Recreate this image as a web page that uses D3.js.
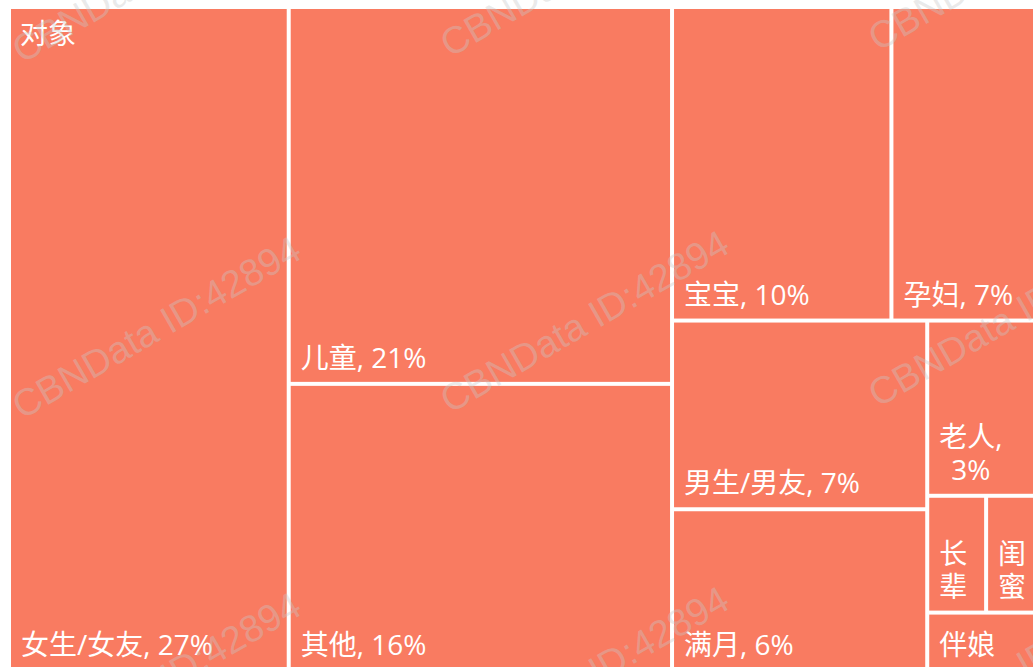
<!DOCTYPE html>
<html>
<head>
<meta charset="utf-8">
<title>对象</title>
<script src="https://cdn.jsdelivr.net/npm/d3@7"></script>
<style>
body { margin: 0; background: #fff; }
.label {
  font-family: "Open Sans", "Noto Sans CJK SC", sans-serif;
  font-size: 28px;
  fill: #fff;
}
.mark {
  font-family: "Liberation Sans", sans-serif;
  font-size: 38px;
  fill: rgba(200, 200, 200, 0.38);
}
</style>
</head>
<body>
<div id="my_dataviz"></div>
<script>
// categories and their share (%)
var names  = ["女生/女友", "儿童", "其他", "宝宝", "孕妇", "男生/男友", "满月", "老人", "长辈", "闺蜜", "伴娘"];
var shares = [27, 21, 16, 10, 7, 7, 6, 3, 1, 1, 1];
var rootName = "对象";
var watermark = "CBNData ID:42894";

var margin = {top: 9, left: 11},
    width = 1032,
    height = 660;

var svg = d3.select("#my_dataviz")
  .append("svg")
  .attr("width", 1033)
  .attr("height", 667);

var g = svg.append("g")
  .attr("transform", "translate(" + margin.left + "," + margin.top + ")");

// squarify variant that prefers slightly tall cells (k < 1)
function tallSquarify(k) {
  return function(parent, x0, y0, x1, y1) {
    var nodes = parent.children, n = nodes.length, value = parent.value, i0 = 0;
    while (i0 < n) {
      var dx = x1 - x0, dy = y1 - y0, dice = dx < dy;
      var best = Infinity, sum = 0, i1 = i0;
      while (i1 < n) {
        var s = sum + nodes[i1].value;
        var thick = (s / value) * (dice ? dy : dx), worst = 0;
        for (var j = i0; j <= i1; j++) {
          var along = (nodes[j].value / s) * (dice ? dx : dy);
          var w = dice ? along : thick, h = dice ? thick : along;
          worst = Math.max(worst, k * h / w, w / (k * h));
        }
        if (worst > best) break;
        best = worst; sum = s; i1++;
      }
      var row = {value: sum, children: nodes.slice(i0, i1)};
      if (dice) d3.treemapDice(row, x0, y0, x1, value ? y0 += dy * sum / value : y1);
      else d3.treemapSlice(row, x0, y0, value ? x0 += dx * sum / value : x1, y1);
      value -= sum;
      i0 = i1;
    }
  };
}

var root = d3.hierarchy({name: rootName, children: names.map(function(nm, i) {
    return {name: nm, share: shares[i]};
  })})
  .sum(function(d) { return d.share || 0; });

d3.treemap()
  .size([width, height])
  .paddingInner(4)
  .tile(tallSquarify(0.82))(root);

var cell = g.selectAll("g.cell")
  .data(root.leaves())
  .enter()
  .append("g")
  .attr("class", "cell");

cell.append("rect")
  .attr("x", function(d) { return d.x0; })
  .attr("y", function(d) { return d.y0; })
  .attr("width", function(d) { return d.x1 - d.x0; })
  .attr("height", function(d) { return d.y1 - d.y0; })
  .style("fill", "#f97b61");

// text measuring helper
var probe = svg.append("text").attr("class", "label").style("visibility", "hidden");
function measure(s) {
  probe.text(s);
  return probe.node().getComputedTextLength();
}

function wrap(text, maxW) {
  var words = text.split(" "), lines = [], cur = "";
  words.forEach(function(word) {
    var cand = cur ? cur + " " + word : word;
    if (measure(cand) <= maxW) { cur = cand; return; }
    if (cur) lines.push(cur);
    if (measure(word) <= maxW) { cur = word; return; }
    cur = "";
    Array.from(word).forEach(function(ch) {
      if (!cur || measure(cur + ch) <= maxW) cur += ch;
      else { lines.push(cur); cur = ch; }
    });
  });
  if (cur) lines.push(cur);
  return lines;
}

var pad = 10, lineH = 33;
cell.each(function(d) {
  var txt = d.data.share >= 3 ? d.data.name + ", " + d.data.share + "%" : d.data.name;
  var lines = wrap(txt, d.x1 - d.x0 - 2 * pad);
  var blockW = d3.max(lines, measure);
  var multi = lines.length > 1;
  d3.select(this).selectAll("text.label")
    .data(lines)
    .enter()
    .append("text")
    .attr("class", "label")
    .attr("text-anchor", multi ? "middle" : "start")
    .attr("x", multi ? d.x0 + pad + blockW / 2 : d.x0 + pad)
    .attr("y", function(l, i) { return d.y1 - 14 - (lines.length - 1 - i) * lineH; })
    .text(function(l) { return l; });
});
probe.remove();

// parent label
g.append("text")
  .attr("class", "label")
  .attr("x", root.x0 + 9)
  .attr("y", root.y0 + 35)
  .text(root.data.name);

// tiled watermark
var marks = [];
[-1, 0, 1].forEach(function(j) {
  [0, 1, 2].forEach(function(i) {
    marks.push([22 + 428 * i, 420 - 6 * i + 356 * j]);
  });
});
svg.selectAll("text.mark")
  .data(marks)
  .enter()
  .append("text")
  .attr("class", "mark")
  .attr("transform", function(p) { return "translate(" + p[0] + "," + p[1] + ") rotate(-30)"; })
  .text(watermark);
</script>
</body>
</html>
